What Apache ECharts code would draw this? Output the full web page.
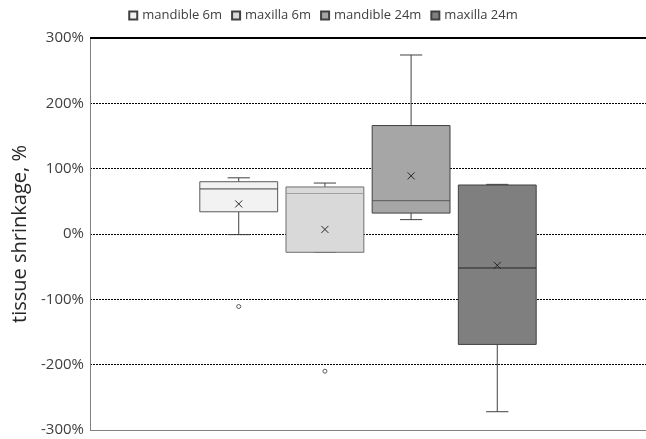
<!DOCTYPE html>
<html><head><meta charset="utf-8">
<script src="https://cdn.jsdelivr.net/npm/echarts@6/dist/echarts.min.js"></script>
<style>html,body{margin:0;padding:0;background:#fff}#c{width:646px;height:439px}</style>
</head><body><div id="c"></div>
<script>
const groups = ['mandible 6m','maxilla 6m','mandible 24m','maxilla 24m'];
const whiskerLow = [-1, -28, 22, -272];
const q1 = [34, -28, 32, -169];
const median = [69, 62, 51, -52];
const q3 = [80, 72, 166, 75];
const whiskerHigh = [86, 78, 274, 76];
const means = [46, 7, 89, -48];
const outliers = [[-111], [-210], [], []];
const yTicks = [-300, -200, -100, 0, 100, 200, 300];

const fills = ['#f2f2f2', '#d9d9d9', '#a6a6a6', '#7f7f7f'];
const borders = ['#595959', '#6f6f6f', '#404040', '#404040'];
const medianColors = ['#404040', '#a0a0a0', '#595959', '#262626'];

function makeRender(i) {
  return function (params, api) {
    const band = api.size([1, 0])[0];
    const step = band * 0.155;
    const cx = api.coord([0, 0])[0] + (i - 1.5) * step;
    const hw = band * 0.070;
    const cap = band * 0.02;
    const y = v => api.coord([0, v])[1];
    const lo = api.value(1), a = api.value(2), m = api.value(3), b = api.value(4), hi = api.value(5), mn = api.value(6);
    const ln = '#404040';
    const children = [];
    children.push({type: 'line', shape: {x1: cx, y1: y(b), x2: cx, y2: y(hi)}, style: {stroke: ln, lineWidth: 1}});
    children.push({type: 'line', shape: {x1: cx, y1: y(a), x2: cx, y2: y(lo)}, style: {stroke: ln, lineWidth: 1}});
    children.push({type: 'line', shape: {x1: cx - cap, y1: y(hi), x2: cx + cap, y2: y(hi)}, style: {stroke: ln, lineWidth: 1}});
    children.push({type: 'line', shape: {x1: cx - cap, y1: y(lo), x2: cx + cap, y2: y(lo)}, style: {stroke: ln, lineWidth: 1}});
    children.push({type: 'rect', shape: {x: cx - hw, y: y(b), width: 2 * hw, height: y(a) - y(b)},
      style: {fill: fills[i], stroke: borders[i], lineWidth: 1}});
    children.push({type: 'line', shape: {x1: cx - hw, y1: y(m), x2: cx + hw, y2: y(m)}, style: {stroke: medianColors[i], lineWidth: 1}});
    const s = 3.5, my = y(mn);
    children.push({type: 'line', shape: {x1: cx - s, y1: my - s, x2: cx + s, y2: my + s}, style: {stroke: '#262626', lineWidth: 1}});
    children.push({type: 'line', shape: {x1: cx - s, y1: my + s, x2: cx + s, y2: my - s}, style: {stroke: '#262626', lineWidth: 1}});
    outliers[i].forEach(v => {
      children.push({type: 'circle', shape: {cx: cx, cy: y(v), r: 2}, style: {fill: '#fff', stroke: '#595959', lineWidth: 1}});
    });
    return {type: 'group', children: children};
  };
}

const series = groups.map((g, i) => ({
  name: g,
  type: 'custom',
  renderItem: makeRender(i),
  itemStyle: {color: fills[i], borderColor: '#404040', borderWidth: 1},
  data: [[0, whiskerLow[i], q1[i], median[i], q3[i], whiskerHigh[i], means[i]]],
  encode: {x: 0, y: [1, 2, 3, 4, 5]},
  clip: false
}));

const chart = echarts.init(document.getElementById('c'), null, {renderer: 'canvas'});
chart.setOption({
  animation: false,
  backgroundColor: '#fff',
  textStyle: {fontFamily: 'Open Sans'},
  legend: {
    top: 4, left: 'center',
    icon: 'rect', itemWidth: 8, itemHeight: 8, itemGap: 9,
    textStyle: {fontSize: 13, color: '#404040', fontFamily: 'Open Sans'},
    data: groups
  },
  grid: {left: 90, right: 0, top: 38, bottom: 9},
  xAxis: {type: 'category', data: [''], axisLine: {show: false}, axisTick: {show: false}, axisLabel: {show: false}},
  yAxis: {
    type: 'value', min: yTicks[0], max: yTicks[yTicks.length - 1], interval: 100,
    name: 'tissue shrinkage, %', nameLocation: 'middle', nameGap: 56,
    nameTextStyle: {fontSize: 20, color: '#262626', fontFamily: 'Open Sans'},
    axisLine: {show: true, lineStyle: {color: '#808080', width: 1}},
    axisTick: {show: false},
    axisLabel: {formatter: v => v + '%', fontSize: 15, color: '#404040', margin: 6, fontFamily: 'Open Sans'},
    splitLine: {show: true, lineStyle: {color: '#000', width: 1, type: [2, 1]}}
  },
  series: series.concat([{
    type: 'line', data: [], silent: true,
    markLine: {
      silent: true, symbol: 'none', label: {show: false},
      data: [
        [{xAxis: 0, yAxis: yTicks[yTicks.length - 1], x: 90}, {yAxis: yTicks[yTicks.length - 1], x: 646}],
      ],
      lineStyle: {color: '#000', width: 2, type: 'solid'}
    }
  }, {
    type: 'line', data: [], silent: true,
    markLine: {
      silent: true, symbol: 'none', label: {show: false},
      data: [[{yAxis: yTicks[0], x: 90}, {yAxis: yTicks[0], x: 646}]],
      lineStyle: {color: '#808080', width: 1, type: 'solid'}
    }
  }])
});
</script></body></html>
